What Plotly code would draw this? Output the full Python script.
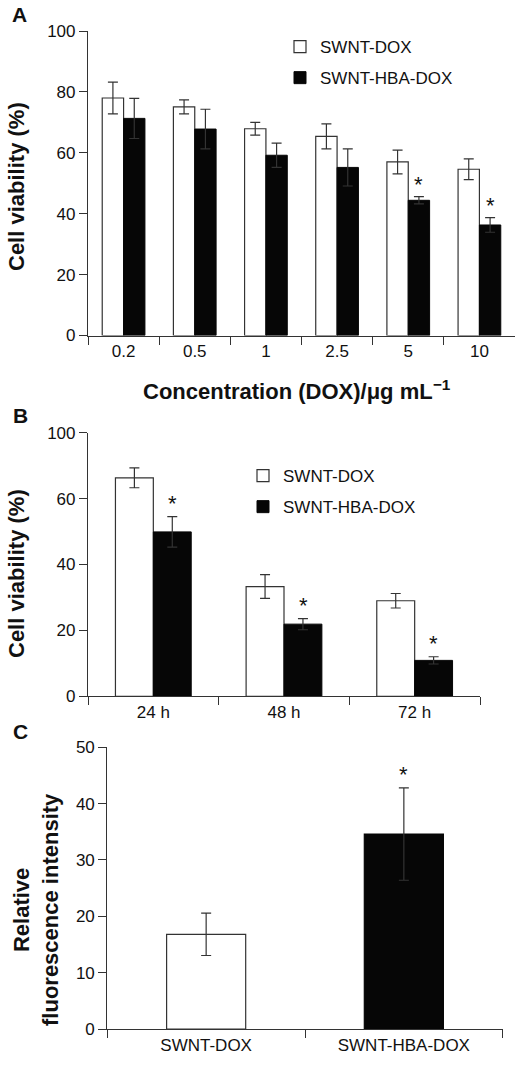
import plotly.graph_objects as go

# ---------------- data ----------------
conc_labels = ["0.2", "0.5", "1", "2.5", "5", "10"]
a_swnt_dox = [78.0, 75.1, 67.9, 65.4, 57.0, 54.6]
a_swnt_dox_err = [5.2, 2.3, 2.1, 4.1, 3.9, 3.4]
a_hba_dox = [71.3, 67.8, 59.2, 55.2, 44.4, 36.3]
a_hba_dox_err = [6.6, 6.5, 4.0, 6.1, 1.2, 2.4]
a_sig = ["5", "10"]

time_labels = ["24 h", "48 h", "72 h"]
b_swnt_dox = [66.3, 33.3, 29.0]
b_swnt_dox_err = [3.0, 3.6, 2.2]
b_hba_dox = [49.9, 21.9, 10.9]
b_hba_dox_err = [4.6, 1.7, 1.1]
b_sig = ["24 h", "48 h", "72 h"]
b_ticktext = ["0", "20", "40", "60", "100"]   # top tick printed as 100 in source

c_labels = ["SWNT-DOX", "SWNT-HBA-DOX"]
c_values = [16.8, 34.6]
c_err = [3.75, 8.2]
c_sig = ["SWNT-HBA-DOX"]

# ---------------- layout helpers ----------------
W, H = 527, 1065
FONT = "Arial, Liberation Sans, sans-serif"
AX = "#333333"
BLACK = "#060606"

def fx(px):
    return px / W

def fy(py):
    return 1 - py / H

fig = go.Figure()

# Panel A
fig.add_trace(go.Bar(x=conc_labels, y=a_swnt_dox, name="SWNT-DOX",
                     width=0.3, offset=-0.3,
                     marker=dict(color="white", line=dict(color=AX, width=1.2)),
                     error_y=dict(type="data", array=a_swnt_dox_err, color=AX, thickness=1.2, width=5),
                     xaxis="x", yaxis="y", legend="legend", legendgroup="a"))
fig.add_trace(go.Bar(x=conc_labels, y=a_hba_dox, name="SWNT-HBA-DOX",
                     width=0.3, offset=0.0,
                     marker=dict(color=BLACK, line=dict(color=BLACK, width=1)),
                     error_y=dict(type="data", array=a_hba_dox_err, color=AX, thickness=1.2, width=5),
                     xaxis="x", yaxis="y", legend="legend", legendgroup="b"))

# Panel B
fig.add_trace(go.Bar(x=time_labels, y=b_swnt_dox, name="SWNT-DOX",
                     width=0.29, offset=-0.29,
                     marker=dict(color="white", line=dict(color=AX, width=1.2)),
                     error_y=dict(type="data", array=b_swnt_dox_err, color=AX, thickness=1.2, width=5),
                     xaxis="x2", yaxis="y2", legend="legend2", legendgroup="a"))
fig.add_trace(go.Bar(x=time_labels, y=b_hba_dox, name="SWNT-HBA-DOX",
                     width=0.29, offset=0.0,
                     marker=dict(color=BLACK, line=dict(color=BLACK, width=1)),
                     error_y=dict(type="data", array=b_hba_dox_err, color=AX, thickness=1.2, width=5),
                     xaxis="x2", yaxis="y2", legend="legend2", legendgroup="b"))

# Panel C
fig.add_trace(go.Bar(x=c_labels, y=c_values, width=0.4, showlegend=False,
                     marker=dict(color=["white", BLACK], line=dict(color=[AX, BLACK], width=1.2)),
                     error_y=dict(type="data", array=c_err, color=AX, thickness=1.2, width=5),
                     xaxis="x3", yaxis="y3"))

common_x = dict(type="category", showline=True, linecolor=AX, linewidth=1.2,
                ticks="outside", tickson="boundaries", ticklen=8, tickcolor=AX, tickwidth=1.2,
                tickfont=dict(family=FONT, size=17, color="#111"), showgrid=False, zeroline=False,
                fixedrange=True, automargin=False)
common_y = dict(showline=True, linecolor=AX, linewidth=1.2, ticks="outside", ticklen=8,
                tickcolor=AX, tickwidth=1.2, tickfont=dict(family=FONT, size=17, color="#111"),
                showgrid=False, zeroline=False, fixedrange=True, automargin=False)

annotations = []
star_font = dict(family=FONT, size=22, color="#111")
# asterisks (x given as category index)
for cat in a_sig:
    i = conc_labels.index(cat)
    annotations.append(dict(x=i, y=a_hba_dox[i] + a_hba_dox_err[i], xref="x", yref="y",
                            text="*", showarrow=False, xshift=10.7, yshift=-2,
                            xanchor="center", yanchor="bottom", font=star_font))
for cat in b_sig:
    i = time_labels.index(cat)
    annotations.append(dict(x=i, y=b_hba_dox[i] + b_hba_dox_err[i], xref="x2", yref="y2",
                            text="*", showarrow=False, xshift=19, yshift=-1,
                            xanchor="center", yanchor="bottom", font=star_font))
for cat in c_sig:
    i = c_labels.index(cat)
    annotations.append(dict(x=i, y=c_values[i] + c_err[i], xref="x3", yref="y3",
                            text="*", showarrow=False, yshift=-1,
                            xanchor="center", yanchor="bottom", font=star_font))

title_font = dict(family=FONT, size=22, color="#111")
# panel letters
for letter, (px, py) in {"A": (19, 15), "B": (20, 415), "C": (20, 731)}.items():
    annotations.append(dict(x=fx(px), y=fy(py), xref="paper", yref="paper", text=f"<b>{letter}</b>",
                            xanchor="center", yanchor="middle",
                            showarrow=False, font=dict(family=FONT, size=21, color="#111")))
# axis titles
annotations += [
    dict(x=fx(16), y=fy(187), xref="paper", yref="paper", text="<b>Cell viability (%)</b>",
         textangle=-90, showarrow=False, xanchor="center", yanchor="middle", font=title_font),
    dict(x=fx(297), y=fy(390), xref="paper", yref="paper",
         text="<b>Concentration (DOX)/μg mL<sup>−1</sup></b>", showarrow=False,
         xanchor="center", yanchor="middle", font=title_font),
    dict(x=fx(16), y=fy(574), xref="paper", yref="paper", text="<b>Cell viability (%)</b>",
         textangle=-90, showarrow=False, xanchor="center", yanchor="middle", font=title_font),
    dict(x=fx(36), y=fy(910), xref="paper", yref="paper",
         text="<b>Relative<br>fluorescence intensity</b>",
         textangle=-90, showarrow=False, xanchor="center", yanchor="middle", font=title_font),
]

legend_common = dict(bgcolor="rgba(0,0,0,0)", borderwidth=0, font=dict(family=FONT, size=17, color="#111"),
                     traceorder="grouped", tracegroupgap=6, xanchor="left", yanchor="top",
                     itemclick=False, itemdoubleclick=False)

fig.update_layout(
    template="none",
    width=W, height=H, margin=dict(l=0, r=0, t=0, b=0, autoexpand=False),
    paper_bgcolor="white", plot_bgcolor="white",
    barmode="overlay",
    xaxis=dict(domain=[fx(88), fx(515)], anchor="y", range=[-0.5, len(conc_labels) - 0.5], **common_x),
    yaxis=dict(domain=[fy(335.5), fy(31)], anchor="x", range=[0, 100], tickvals=[0, 20, 40, 60, 80, 100], **common_y),
    xaxis2=dict(domain=[fx(88), fx(480)], anchor="y2", range=[-0.5, len(time_labels) - 0.5], **common_x),
    yaxis2=dict(domain=[fy(696.3), fy(432.7)], anchor="x2", range=[0, 80], tickvals=[0, 20, 40, 60, 80],
                ticktext=b_ticktext, **common_y),
    xaxis3=dict(domain=[fx(107.3), fx(502.7)], anchor="y3", range=[-0.5, len(c_labels) - 0.5], **common_x),
    yaxis3=dict(domain=[fy(1029), fy(747.3)], anchor="x3", range=[0, 50], tickvals=[0, 10, 20, 30, 40, 50], **common_y),
    legend=dict(x=fx(280), y=fy(29), **legend_common),
    legend2=dict(x=fx(243), y=fy(458), **legend_common),
    annotations=annotations,
    showlegend=True,
)

fig.write_html("out.html", config={"displayModeBar": False},
               post_script="document.body.style.margin='0px';")
